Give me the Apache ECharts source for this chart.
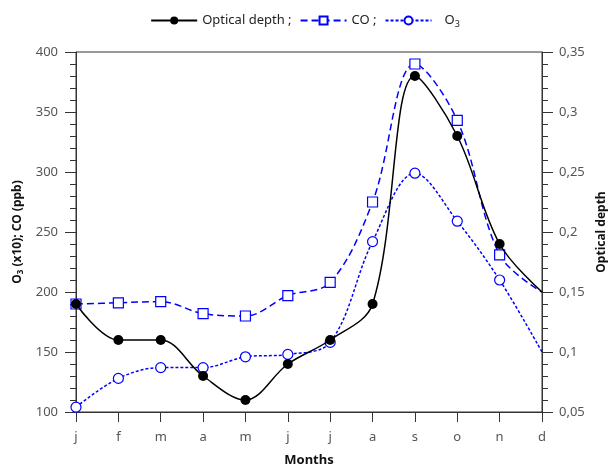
<!DOCTYPE html>
<html>
<head>
<meta charset="utf-8">
<script src="https://cdn.jsdelivr.net/npm/echarts@6/dist/echarts.min.js"></script>
<style>html,body{margin:0;padding:0;background:#fff;}#c{width:610px;height:467px;}</style>
</head>
<body>
<div id="c"></div>
<script>
var months = ['j','f','m','a','m','j','j','a','s','o','n','d'];
var opticalDepth = [0.14, 0.11, 0.11, 0.08, 0.06, 0.09, 0.11, 0.14, 0.33, 0.28, 0.19, 0.15];
var co = [190, 191, 192, 182, 180, 197, 208, 275, 390, 343, 231, 200];
var o3 = [104, 128, 137, 137, 146, 148, 158, 242, 299, 259, 210, 150];
var leftTicks = {min: 100, max: 400, interval: 50};
var rightTicks = {min: 0.05, max: 0.35, interval: 0.05};

function noLastMarker(arr) {
  return arr.map(function (v, i) { return i === arr.length - 1 ? {value: v, symbol: 'none'} : v; });
}

var font = 'Noto Sans';
var axisColor = '#333';
var labelColor = '#555';

var chart = echarts.init(document.getElementById('c'), null, {renderer: 'canvas'});
chart.setOption({
  animation: false,
  backgroundColor: '#fff',
  textStyle: {fontFamily: font},
  legend: {
    top: 9,
    left: 'center',
    itemWidth: 46,
    itemHeight: 10,
    itemGap: 8,
    textStyle: {
      fontFamily: font, fontSize: 13, color: '#222',
      rich: {
        n: {fontFamily: font, fontSize: 13, color: '#222', padding: [0, 0, 0, 8]},
        s: {fontFamily: font, fontSize: 9, color: '#222', verticalAlign: 'bottom', padding: [8, 0, 0, 0]}
      }
    },
    formatter: function (name) {
      return name === 'O3' ? '{n|O}{s|3}' : name;
    },
    data: ['Optical depth ;', 'CO ;', 'O3']
  },
  grid: {
    left: 76, right: 68, top: 52, bottom: 55,
    outerBoundsMode: 'none',
    containLabel: false,
    show: true, borderColor: axisColor, borderWidth: 1, backgroundColor: 'transparent'
  },
  xAxis: {
    type: 'category',
    data: months,
    boundaryGap: false,
    name: 'Months',
    nameLocation: 'middle',
    nameGap: 42,
    nameTextStyle: {fontFamily: font, fontSize: 13, fontWeight: 'bold', color: '#111'},
    axisLine: {show: true, lineStyle: {color: axisColor, width: 1}},
    axisTick: {show: true, length: 10, alignWithLabel: true, lineStyle: {color: axisColor}},
    axisLabel: {color: labelColor, fontSize: 13, margin: 19, fontFamily: font},
    splitLine: {show: false}
  },
  yAxis: [{
    type: 'value',
    min: leftTicks.min, max: leftTicks.max, interval: leftTicks.interval,
    position: 'left',
    name: '{b|O}{sb|3}{b| (x10); CO (ppb)}',
    nameLocation: 'middle',
    nameRotate: 90,
    nameGap: 50,
    nameTextStyle: {
      rich: {
        b: {fontFamily: font, fontSize: 12, fontWeight: 'bold', color: '#111'},
        sb: {fontFamily: font, fontSize: 8, fontWeight: 'bold', color: '#111', verticalAlign: 'bottom', padding: [7, 0, 0, 0]}
      }
    },
    axisLine: {show: true, lineStyle: {color: axisColor, width: 1}},
    axisTick: {show: true, length: 11, lineStyle: {color: axisColor}},
    minorTick: {show: true, splitNumber: 5, length: 6, lineStyle: {color: axisColor}},
    axisLabel: {color: labelColor, fontSize: 13, margin: 18, fontFamily: font},
    splitLine: {show: false}
  }, {
    type: 'value',
    min: rightTicks.min, max: rightTicks.max, interval: rightTicks.interval,
    position: 'right',
    name: 'Optical depth',
    nameLocation: 'middle',
    nameRotate: 90,
    nameGap: 50,
    nameTextStyle: {fontFamily: font, fontSize: 12, fontWeight: 'bold', color: '#111'},
    axisLine: {show: true, lineStyle: {color: axisColor, width: 1}},
    axisTick: {show: true, length: 11, lineStyle: {color: axisColor}},
    minorTick: {show: true, splitNumber: 5, length: 6, lineStyle: {color: axisColor}},
    axisLabel: {
      color: labelColor, fontSize: 13, margin: 17, fontFamily: font,
      formatter: function (v) { return String(+v.toFixed(2)).replace('.', ','); }
    },
    splitLine: {show: false}
  }],
  series: [{
    name: 'Optical depth ;',
    type: 'line',
    yAxisIndex: 1,
    data: noLastMarker(opticalDepth),
    smooth: 0.35,
    symbol: 'circle',
    symbolSize: 10,
    itemStyle: {color: '#000', borderColor: '#000', borderWidth: 0},
    lineStyle: {color: '#000', width: 1.5},
    z: 5
  }, {
    name: 'CO ;',
    type: 'line',
    yAxisIndex: 0,
    data: noLastMarker(co),
    smooth: 0.35,
    symbol: 'rect',
    symbolSize: 10,
    itemStyle: {color: '#fff', borderColor: '#0000ff', borderWidth: 1.2},
    lineStyle: {color: '#0000ff', width: 1.5, type: [7, 4]},
    z: 4
  }, {
    name: 'O3',
    type: 'line',
    yAxisIndex: 0,
    data: noLastMarker(o3),
    smooth: 0.35,
    symbol: 'circle',
    symbolSize: 10,
    itemStyle: {color: '#fff', borderColor: '#0000ff', borderWidth: 1.2},
    lineStyle: {color: '#0000ff', width: 1.5, type: [3, 2]},
    z: 3
  }]
});
</script>
</body>
</html>
